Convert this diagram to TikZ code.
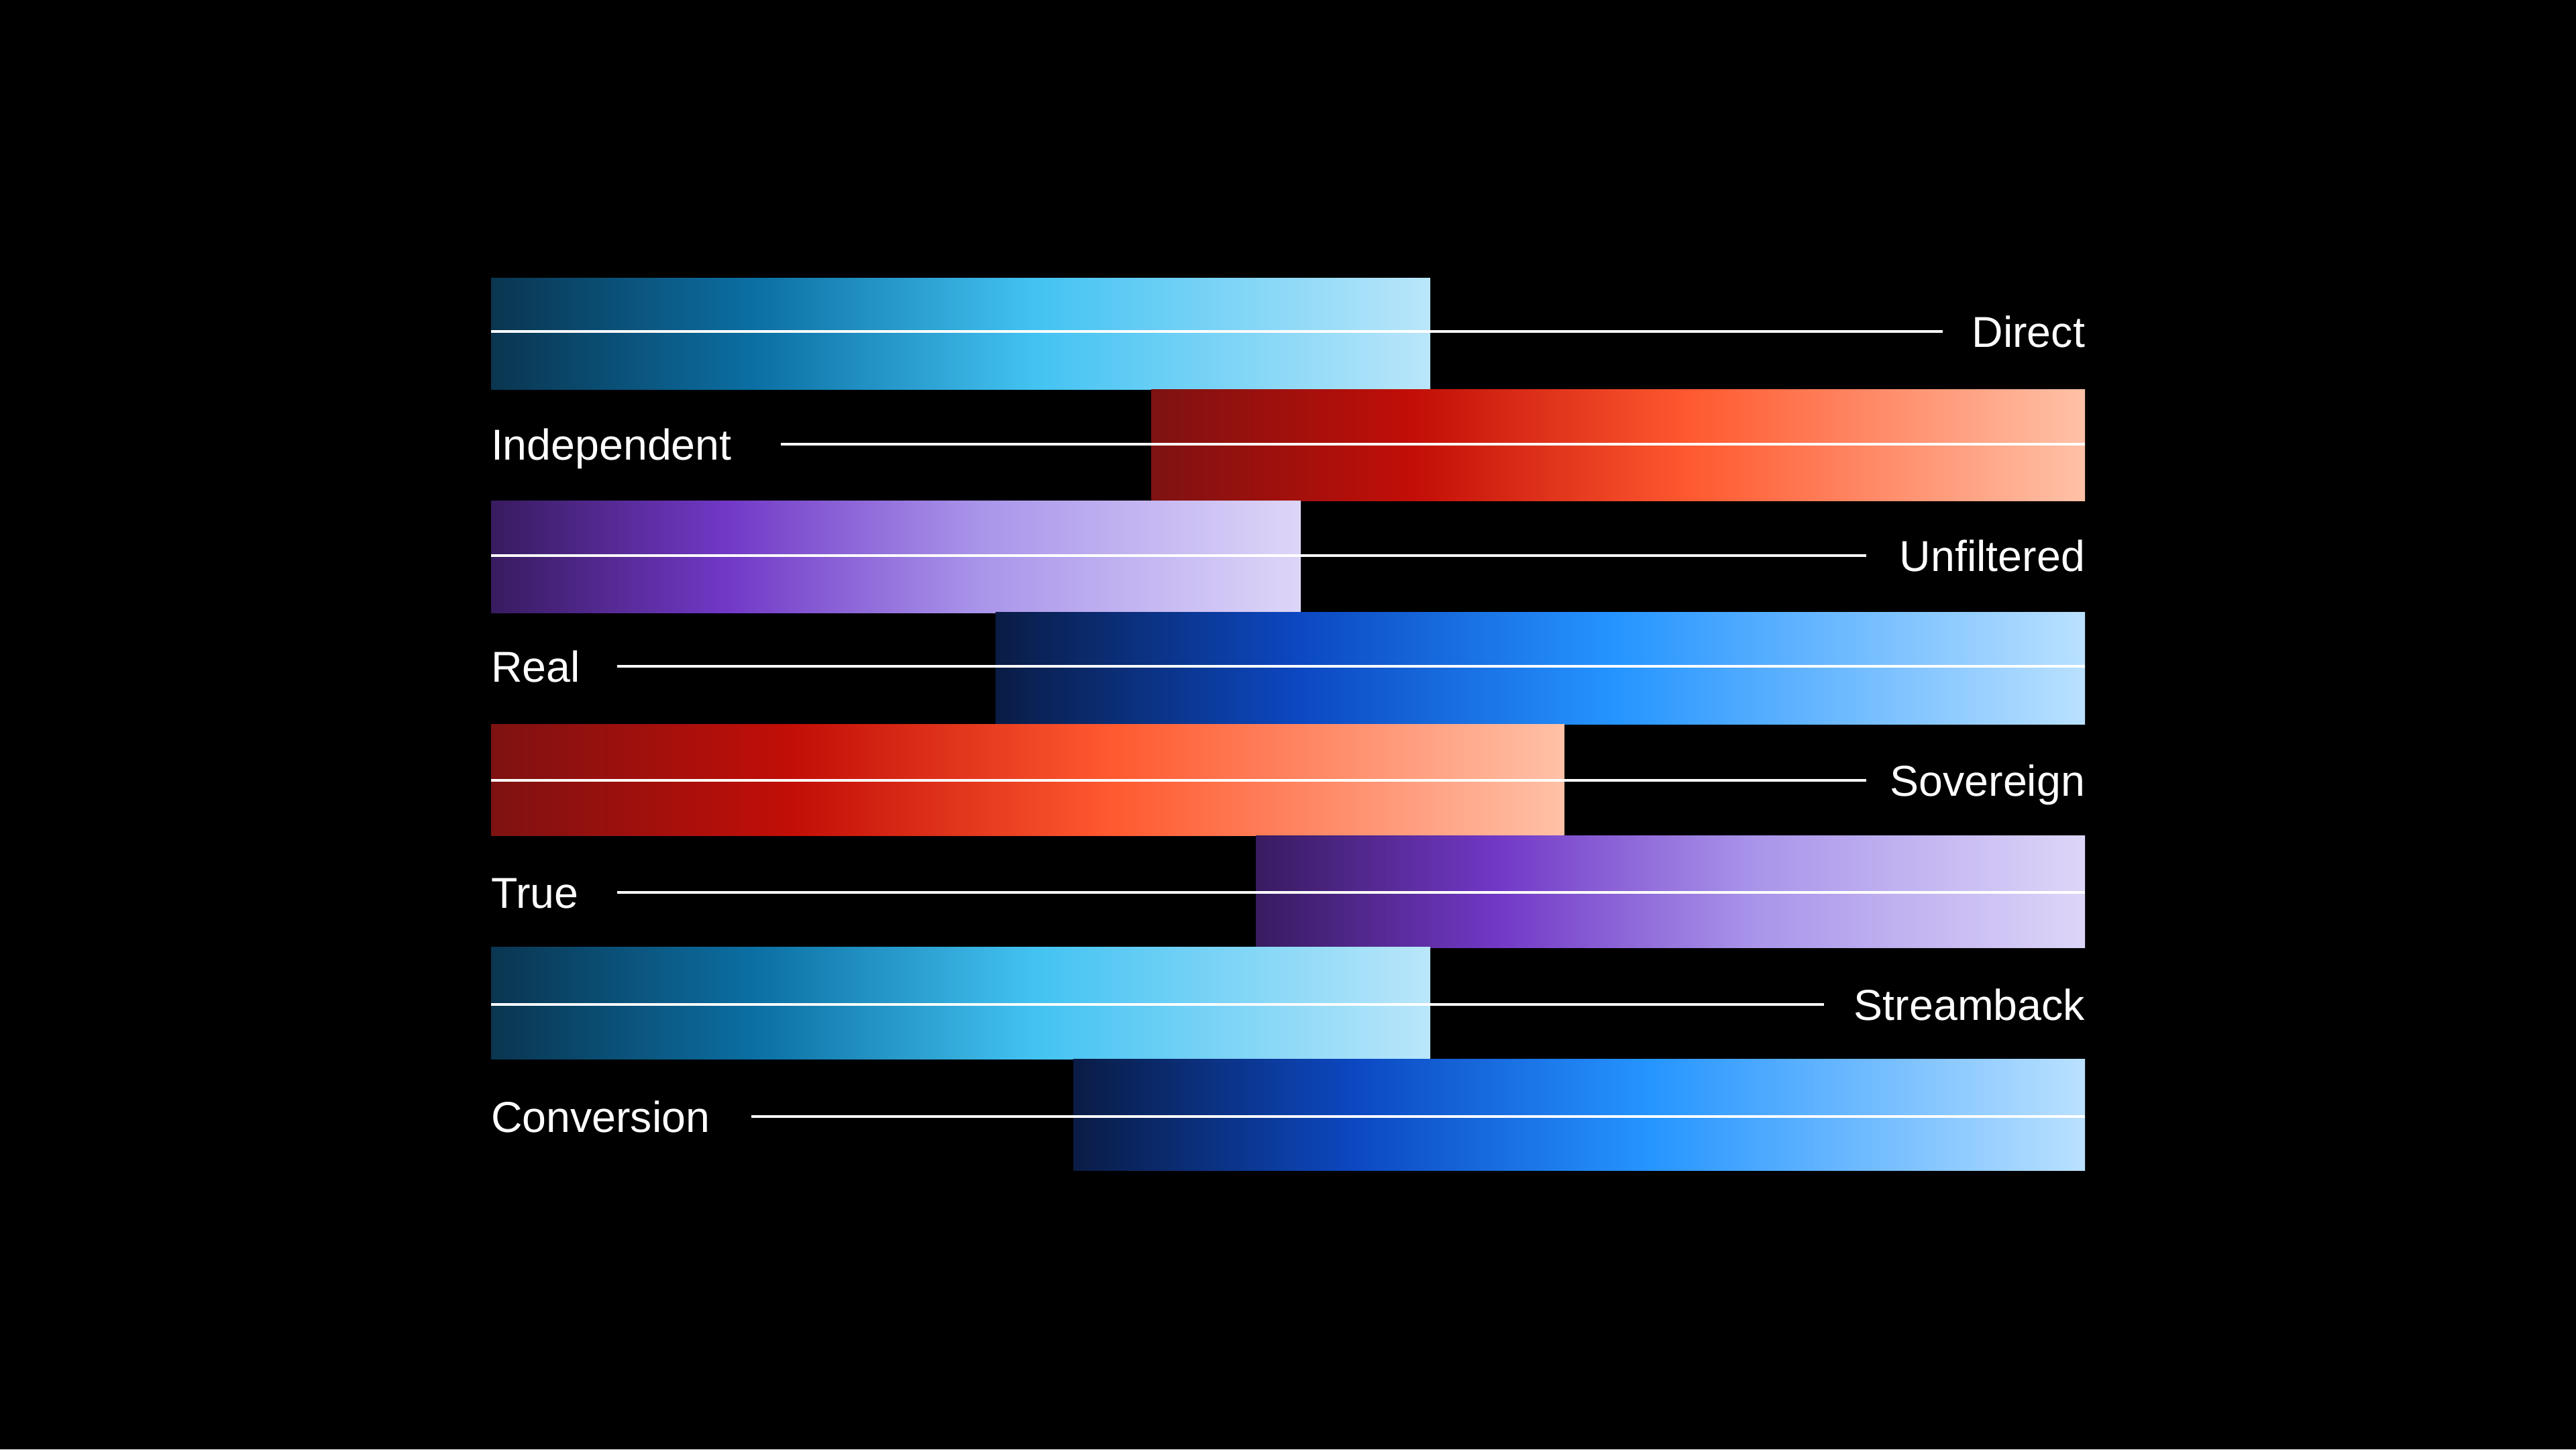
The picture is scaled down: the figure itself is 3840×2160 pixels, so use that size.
\documentclass[tikz,border=0pt]{standalone}
\usepackage{fontspec}
\setmainfont{Liberation Sans}
\definecolor{cyA}{HTML}{0A3550}
\definecolor{cyB}{HTML}{0B6FA3}
\definecolor{cyC}{HTML}{43C3F2}
\definecolor{cyD}{HTML}{BAE6FA}
\definecolor{rdA}{HTML}{7E1212}
\definecolor{rdB}{HTML}{C20E07}
\definecolor{rdC}{HTML}{FF5A30}
\definecolor{rdD}{HTML}{FFC1A7}
\definecolor{puA}{HTML}{381B60}
\definecolor{puB}{HTML}{7138C6}
\definecolor{puC}{HTML}{A994EA}
\definecolor{puD}{HTML}{DDD6F8}
\definecolor{blA}{HTML}{0A1C45}
\definecolor{blB}{HTML}{0C48C2}
\definecolor{blC}{HTML}{2595FF}
\definecolor{blD}{HTML}{BAE1FF}
\pgfdeclarehorizontalshading{cyanbar}{100bp}{color(0bp)=(cyA); color(25bp)=(cyA); color(39bp)=(cyB); color(54bp)=(cyC); color(75bp)=(cyD); color(100bp)=(cyD)}
\pgfdeclarehorizontalshading{redbar}{100bp}{color(0bp)=(rdA); color(25bp)=(rdA); color(39bp)=(rdB); color(54bp)=(rdC); color(75bp)=(rdD); color(100bp)=(rdD)}
\pgfdeclarehorizontalshading{purplebar}{100bp}{color(0bp)=(puA); color(25bp)=(puA); color(39.5bp)=(puB); color(55bp)=(puC); color(75bp)=(puD); color(100bp)=(puD)}
\pgfdeclarehorizontalshading{bluebar}{100bp}{color(0bp)=(blA); color(25bp)=(blA); color(39bp)=(blB); color(53.5bp)=(blC); color(75bp)=(blD); color(100bp)=(blD)}
\begin{document}
\begin{tikzpicture}[x=1pt,y=-1pt,
  barbox/.style={shade, anchor=north west, inner sep=0pt, outer sep=0pt, minimum height=166.6pt},
  lbl/.style={text=white, inner sep=0pt, outer sep=0pt, font=\fontsize{64.5}{72}\selectfont},
  guide/.style={draw=white, line width=4pt}]
\fill[black] (0,0) rectangle (3840,2160);
\useasboundingbox (0,0) rectangle (3840,2160);
% bars
\node[barbox, shading=cyanbar,   minimum width=1400pt] (b1) at (732,414) {};
\node[barbox, shading=redbar,    minimum width=1392pt] (b2) at (1716,580.3) {};
\node[barbox, shading=purplebar, minimum width=1207pt] (b3) at (732,746.6) {};
\node[barbox, shading=bluebar,   minimum width=1624pt] (b4) at (1484,912.9) {};
\node[barbox, shading=redbar,    minimum width=1600pt] (b5) at (732,1079.2) {};
\node[barbox, shading=purplebar, minimum width=1236pt] (b6) at (1872,1245.5) {};
\node[barbox, shading=cyanbar,   minimum width=1400pt] (b7) at (732,1411.8) {};
\node[barbox, shading=bluebar,   minimum width=1508pt] (b8) at (1600,1578.1) {};
% labels
\node[lbl, anchor=base east] (t1) at (3108,517) {Direct};
\node[lbl, anchor=base west] (t2) at (732,685) {Independent};
\node[lbl, anchor=base east] (t3) at (3108,851) {Unfiltered};
\node[lbl, anchor=base west] (t4) at (732,1016) {Real};
\node[lbl, anchor=base east] (t5) at (3108,1186) {Sovereign};
\node[lbl, anchor=base west] (t6) at (732,1353) {True};
\node[lbl, anchor=base east] (t7) at (3108,1520) {Streamback};
\node[lbl, anchor=base west] (t8) at (732,1687) {Conversion};
% guide lines
\coordinate (s1) at (732,494);  \coordinate (e1) at (2896,494);
\coordinate (s2) at (1164,662); \coordinate (e2) at (3108,662);
\coordinate (s3) at (732,828);  \coordinate (e3) at (2782,828);
\coordinate (s4) at (920,993);  \coordinate (e4) at (3108,993);
\coordinate (s5) at (732,1163); \coordinate (e5) at (2782,1163);
\coordinate (s6) at (920,1330); \coordinate (e6) at (3108,1330);
\coordinate (s7) at (732,1497); \coordinate (e7) at (2719,1497);
\coordinate (s8) at (1120,1664);\coordinate (e8) at (3108,1664);
\foreach \i in {1,...,8} { \draw[guide] (s\i) -- (e\i); }
\end{tikzpicture}
\end{document}
